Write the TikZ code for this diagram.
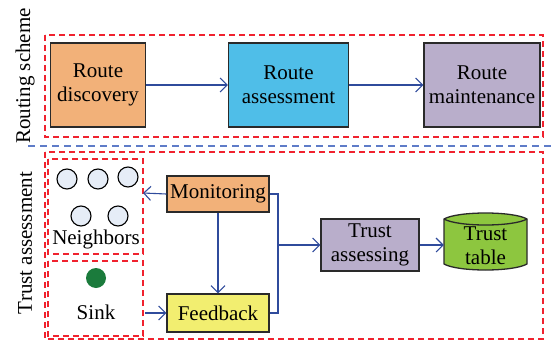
\documentclass[tikz,border=0pt]{standalone}
\usepackage{fontspec}
\setmainfont{Liberation Serif}
\usetikzlibrary{arrows.meta}
\definecolor{corange}{HTML}{F2B179}
\definecolor{cblue}{HTML}{4FBEE8}
\definecolor{cpurple}{HTML}{B9AECB}
\definecolor{cyellow}{HTML}{F2EE70}
\definecolor{cgreen}{HTML}{8DC63F}
\definecolor{cnode}{HTML}{E6EDF7}
\definecolor{csink}{HTML}{1B7B3C}
\definecolor{cred}{HTML}{F0222E}
\definecolor{cdash}{HTML}{5F7CC8}
\definecolor{carrow}{HTML}{2F4B9C}
\definecolor{cborder}{HTML}{2A2A2A}
\tikzset{
  box/.style={draw=cborder, line width=1.3pt, inner sep=0pt, align=center,
    font=\fontsize{21}{24}\selectfont},
  group/.style={color=cred, line width=1.3pt, dash pattern=on 6pt off 4pt},
  sep/.style={color=cdash, line width=1.4pt, dash pattern=on 7pt off 5pt},
  conn/.style={color=carrow, line width=1.1pt, -{Straight Barb[length=7pt,width=14pt,line width=1.1pt]}},
  plain/.style={color=carrow, line width=1.1pt},
  nb/.style={circle, draw=black, line width=1.1pt, fill=cnode, minimum size=20pt, inner sep=0pt},
  lbl/.style={font=\fontsize{21}{24}\selectfont, inner sep=0pt}
}
\begin{document}
\begin{tikzpicture}[x=1pt,y=-1pt]
\useasboundingbox (0,0) rectangle (551,340);
% side labels
\node[lbl, rotate=90] (lrs) at (25,76) {Routing scheme};
\node[lbl, rotate=90] (lta) at (25,243) {Trust assessment};
% group frames
\draw[group] (45,35) rectangle (543,137);
\draw[sep] (28,146) -- (551,146);
\draw[group] (45,152) rectangle (543,339);
\draw[group] (48,159) rectangle (143,254);
\draw[group] (48,261) rectangle (143,336);
\coordinate (neighE) at (143,193);
\coordinate (sinkE) at (145,313);
% routing boxes
\node[box, fill=corange, minimum width=95, minimum height=84] (rd) at (98,85) {Route\\discovery};
\node[box, fill=cblue, minimum width=120, minimum height=84] (ra) at (288.5,85) {Route\\assessment};
\node[box, fill=cpurple, minimum width=116, minimum height=84] (rm) at (482,85) {Route\\maintenance};
\draw[conn] (rd.east) -- (ra.west);
\draw[conn] (ra.east) -- (rm.west);
% neighbors
\node[nb] (n1) at (67,179) {};
\node[nb] (n2) at (98,179) {};
\node[nb] (n3) at (128,177) {};
\node[nb] (n4) at (81,216) {};
\node[nb] (n5) at (118,216) {};
\node[lbl] (nbl) at (96,239) {Neighbors};
\node[circle, fill=csink, minimum size=20pt, inner sep=0pt] (sk) at (96,278) {};
\node[lbl] (skl) at (96,312) {Sink};
% trust boxes
\node[box, fill=corange, minimum width=102, minimum height=36] (mon) at (218,194) {Monitoring};
\node[box, fill=cyellow, minimum width=102, minimum height=38] (fb) at (218,313) {Feedback};
\node[box, fill=cpurple, minimum width=98, minimum height=52] (ta) at (370,245) {Trust\\assessing};
% trust table cylinder
\fill[cgreen] (444,219) .. controls (458,211) and (513,211) .. (527,219) -- (527,264)
  .. controls (513,272) and (458,272) .. (444,264) -- cycle;
\draw[cborder, line width=1.3pt] (444,219) .. controls (458,211) and (513,211) .. (527,219) -- (527,264)
  .. controls (513,272) and (458,272) .. (444,264) -- cycle;
\draw[cborder, line width=1.3pt] (444,219) .. controls (458,227) and (513,227) .. (527,219);
\node[lbl, align=center, minimum width=83, minimum height=57] (tt) at (485.5,246) {Trust\\table};
% connectors
\draw[conn] (mon.west) -- (neighE);
\draw[conn] (mon.south) -- (fb.north);
\draw[conn] (sinkE) -- (fb.west);
\coordinate (j) at (278,245);
\draw[plain] (mon.east) -| (j);
\draw[plain] (fb.east) -| (j);
\draw[conn] (j) -- (ta.west);
\draw[conn] (ta.east) -- (ta.east -| tt.west);
\end{tikzpicture}
\end{document}
